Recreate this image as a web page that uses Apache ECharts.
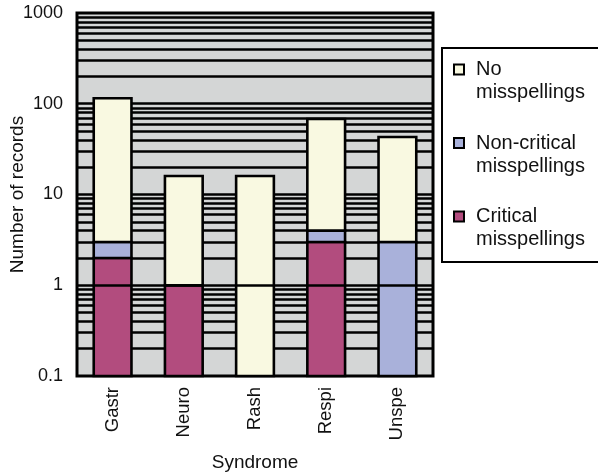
<!DOCTYPE html>
<html>
<head>
<meta charset="utf-8">
<script src="https://cdn.jsdelivr.net/npm/echarts@6/dist/echarts.min.js"></script>
<style>
  html, body { margin: 0; padding: 0; background: #fff; }
  #chart { width: 598px; height: 474px; }
</style>
</head>
<body>
<div id="chart"></div>
<script>
// Records per syndrome, split by misspelling type (stacked, log scale)
const syndromes = ['Gastr', 'Neuro', 'Rash', 'Respi', 'Unspe'];
const critical = [2, 1, 0, 3, 0];
const nonCritical = [1, 0, 0, 1, 3];
const noMisspellings = [112, 15, 16, 64, 40];

const seriesNames = ['Critical misspellings', 'Non-critical misspellings', 'No misspellings'];
const seriesColors = ['#b24c7e', '#a9b1da', '#f9f9e1'];
const layers = [critical, nonCritical, noMisspellings];

const yMin = 0.1;
const yMax = 1000;
const decades = [0.1, 1, 10, 100];
const multipliers = [2, 3, 4, 5, 6, 7, 8, 9];

// horizontal rules at every 1..9 step of each decade (the 1-rule is drawn on top of the bars)
const ruleValues = [];
decades.forEach(d => {
  multipliers.forEach(m => ruleValues.push(d * m));
  if (d > 1) ruleValues.push(d);
});

// stack each layer on top of the ones below it
function stackedSegments(layerIndex) {
  const out = [];
  syndromes.forEach((_, i) => {
    let below = 0;
    for (let k = 0; k < layerIndex; k++) below += layers[k][i];
    const v = layers[layerIndex][i];
    if (v > 0) out.push([i, below > 0 ? below : yMin, below + v]);
  });
  return out;
}

function renderSegment(params, api) {
  const i = api.value(0);
  const lo = api.coord([i, api.value(1)]);
  const hi = api.coord([i, api.value(2)]);
  const w = api.size([1, 1])[0] * 0.53;
  return {
    type: 'rect',
    shape: { x: lo[0] - w / 2, y: hi[1], width: w, height: lo[1] - hi[1] },
    style: { fill: api.visual('color'), stroke: '#000', lineWidth: 2.6 }
  };
}

const series = layers.map((_, k) => {
  const s = {
    name: seriesNames[k],
    type: 'custom',
    coordinateSystem: 'cartesian2d',
    renderItem: renderSegment,
    encode: { x: 0, y: [1, 2] },
    itemStyle: { color: seriesColors[k], borderColor: '#000', borderWidth: 2 },
    data: stackedSegments(k),
    z: 3,
    silent: true
  };
  if (k === 0) {
    s.markLine = {
      silent: true, symbol: 'none', z: 1, animation: false,
      label: { show: false },
      lineStyle: { color: '#000', width: 2.6, type: 'solid' },
      data: ruleValues.map(v => ({ yAxis: v }))
    };
  }
  if (k === 1) {
    s.markLine = {
      silent: true, symbol: 'none', z: 10, animation: false,
      label: { show: false },
      lineStyle: { color: '#000', width: 2.6, type: 'solid' },
      data: [{ yAxis: 1 }]
    };
  }
  return s;
});

const chart = echarts.init(document.getElementById('chart'), null, { renderer: 'canvas' });
chart.setOption({
  animation: false,
  textStyle: { fontFamily: 'Liberation Sans, Arial, sans-serif', color: '#111' },
  grid: {
    left: 77, top: 13, width: 356, height: 363,
    outerBoundsMode: 'none',
    containLabel: false,
    show: true, backgroundColor: '#d4d6d6', borderColor: '#000', borderWidth: 3
  },
  xAxis: {
    type: 'category',
    data: syndromes,
    name: 'Syndrome',
    nameLocation: 'middle',
    nameGap: 77,
    nameMoveOverlap: false,
    nameTextStyle: { fontSize: 19, color: '#111' },
    axisLine: { show: false },
    axisTick: { show: false },
    axisLabel: { rotate: 90, fontSize: 18.5, color: '#111', margin: 11 }
  },
  yAxis: {
    type: 'log',
    logBase: 10,
    min: yMin,
    max: yMax,
    name: 'Number of records',
    nameLocation: 'middle',
    nameGap: 50,
    nameMoveOverlap: false,
    nameTextStyle: { fontSize: 19, color: '#111' },
    axisLine: { show: false },
    axisTick: { show: false },
    splitLine: { show: false },
    axisLabel: { fontSize: 18, color: '#111', margin: 14, formatter: v => String(v) }
  },
  legend: {
    data: ['No misspellings', 'Non-critical misspellings', 'Critical misspellings'],
    orient: 'vertical',
    left: 442,
    top: 48,
    padding: [-13, 60, 11, 11],
    itemGap: 4.5,
    itemWidth: 10,
    itemHeight: 10,
    icon: 'rect',
    selectedMode: false,
    borderColor: '#000',
    borderWidth: 2,
    itemStyle: { borderColor: '#000', borderWidth: 2 },
    formatter: name => '\n' + name.replace(' ', '\n'),
    textStyle: { fontSize: 20, lineHeight: 23, color: '#111', padding: [0, 0, 0, 7] }
  },
  series: series
});
</script>
</body>
</html>
